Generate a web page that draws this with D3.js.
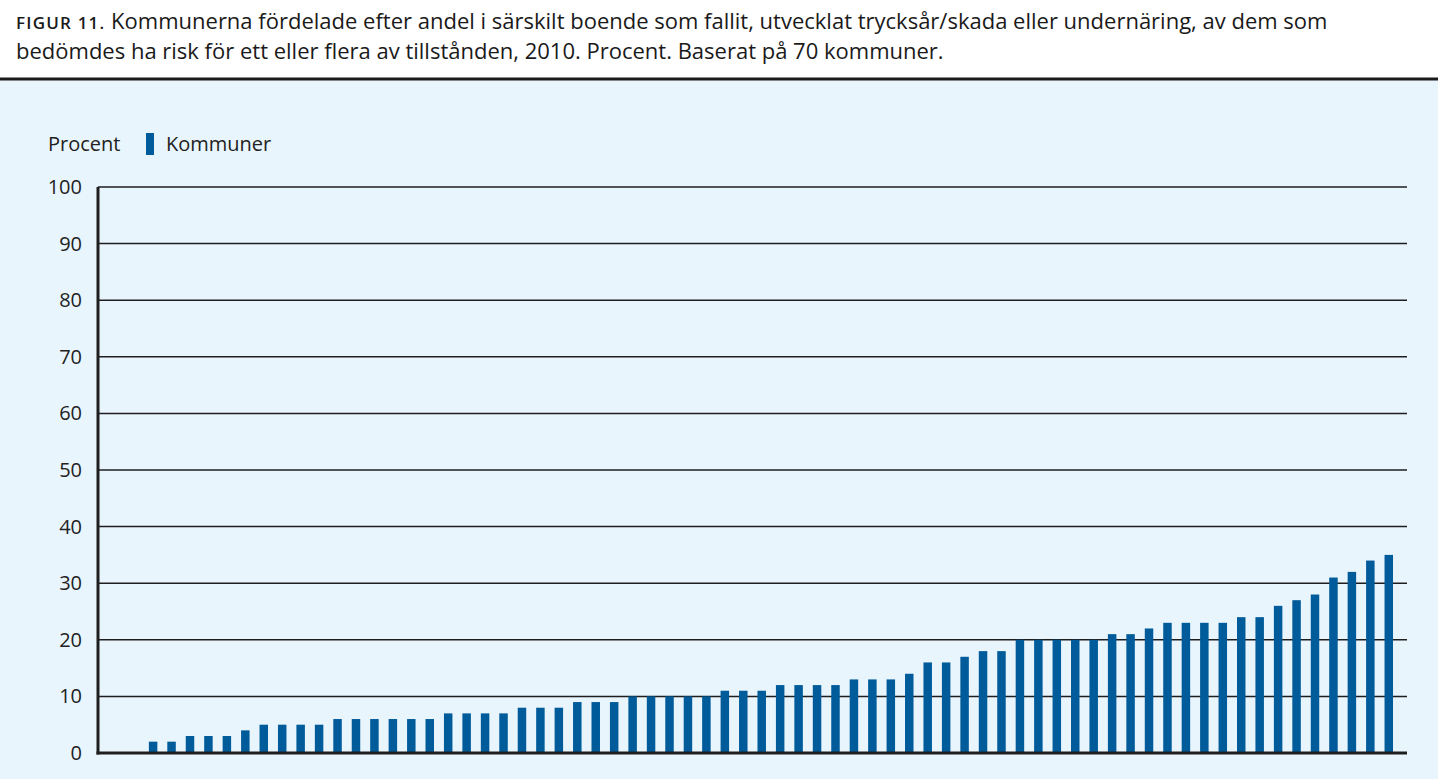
<!DOCTYPE html>
<html><head><meta charset="utf-8">
<script src="https://cdn.jsdelivr.net/npm/d3@7"></script>
<style>
html,body{margin:0;padding:0;background:#fff;}
svg{display:block;font-family:"Open Sans","Noto Sans",sans-serif;}
</style></head>
<body>
<svg id="chart" width="1438" height="779"></svg>
<script>
const titleLine1Prefix = "FIGUR 11.";
const titleLine1 = " Kommunerna fördelade efter andel i särskilt boende som fallit, utvecklat trycksår/skada eller undernäring, av dem som";
const titleLine2 = "bedömdes ha risk för ett eller flera av tillstånden, 2010. Procent. Baserat på 70 kommuner.";
const yLabel = "Procent";
const seriesName = "Kommuner";
const yTicks = [0,10,20,30,40,50,60,70,80,90,100];
const values = [0,0,2,2,3,3,3,4,5,5,5,5,6,6,6,6,6,6,7,7,7,7,8,8,8,9,9,9,10,10,10,10,10,11,11,11,12,12,12,12,13,13,13,14,16,16,17,18,18,20,20,20,20,20,21,21,22,23,23,23,23,24,24,26,27,28,31,32,34,35];
const categories = values.map((d,i)=>"K"+(i+1));

const svg = d3.select("#chart");
const W = 1438, H = 779;
const barColor = "#005b9a";
const bg = "#e8f5fd";

svg.append("rect").attr("x",0).attr("y",0).attr("width",W).attr("height",H).attr("fill","#fff");
svg.append("rect").attr("x",0).attr("y",80).attr("width",W).attr("height",H-80).attr("fill",bg);
svg.append("line").attr("x1",0).attr("x2",W).attr("y1",79).attr("y2",79).attr("stroke","#1a1a1a").attr("stroke-width",3);

const t1 = svg.append("text").attr("x",16).attr("y",29).attr("font-size",22).attr("fill","#1a1a1a");
t1.append("tspan").attr("font-size",17).attr("font-weight",600).attr("letter-spacing",1.2).text(titleLine1Prefix);
t1.append("tspan").text(titleLine1);
svg.append("text").attr("x",16).attr("y",59).attr("font-size",22).attr("fill","#1a1a1a").text(titleLine2);

const pLeft = 98, pRight = 1407, pTop = 187, pBottom = 753;
const y = d3.scaleLinear().domain([0,100]).range([pBottom, pTop]);
const x = d3.scaleBand().domain(categories).range([pLeft+9, pRight-9]).paddingInner(0.54).paddingOuter(0.27);

// gridlines
svg.append("g").selectAll("line").data(yTicks.filter(d=>d>0)).join("line")
  .attr("x1",pLeft).attr("x2",pRight).attr("y1",d=>y(d)).attr("y2",d=>y(d))
  .attr("stroke","#1e1e1e").attr("stroke-width",1.5);

// bars
svg.append("g").selectAll("rect").data(values).join("rect")
  .attr("x",(d,i)=>x(categories[i]))
  .attr("width",x.bandwidth())
  .attr("y",d=>y(d))
  .attr("height",d=>pBottom-y(d))
  .attr("fill",barColor);

// axes lines
svg.append("line").attr("x1",pLeft).attr("x2",pLeft).attr("y1",pTop).attr("y2",pBottom+1.5).attr("stroke","#1e1e1e").attr("stroke-width",3);
svg.append("line").attr("x1",pLeft-1.5).attr("x2",pRight).attr("y1",pBottom).attr("y2",pBottom).attr("stroke","#1e1e1e").attr("stroke-width",3);

// y tick labels
const yAxis = d3.axisLeft(y).tickValues(yTicks).tickSize(0).tickPadding(16);
const ga = svg.append("g").attr("transform",`translate(${pLeft},0)`).call(yAxis);
ga.select(".domain").remove();
ga.selectAll("text").attr("font-size",20).attr("fill","#222").attr("font-family","'Open Sans','Noto Sans',sans-serif");

// legend
svg.append("text").attr("x",48).attr("y",151).attr("font-size",20).attr("fill","#222").text(yLabel);
svg.append("rect").attr("x",146).attr("y",133).attr("width",8).attr("height",22).attr("fill",barColor);
svg.append("text").attr("x",166).attr("y",151).attr("font-size",20).attr("fill","#222").text(seriesName);
</script>
</body></html>
